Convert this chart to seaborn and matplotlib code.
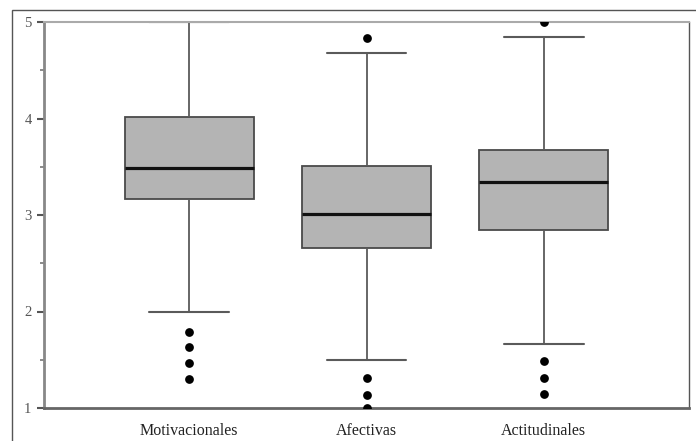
import matplotlib
matplotlib.use("Agg")
import matplotlib.pyplot as plt
from matplotlib.patches import Rectangle
import seaborn as sns
import pandas as pd

# Categories
categories = ["Motivacionales", "Afectivas", "Actitudinales"]

# Five-number summaries (whisker low, Q1, median, Q3, whisker high)
whisker_low = [2.00, 1.50, 1.66]
q1_vals = [3.17, 2.66, 2.84]
median_vals = [3.49, 3.01, 3.34]
q3_vals = [4.02, 3.51, 3.67]
whisker_high = [5.00, 4.68, 4.84]

# Outliers per category
outliers_motivacionales = [1.79, 1.63, 1.47, 1.30]
outliers_afectivas = [4.83, 1.31, 1.13, 1.00]
outliers_actitudinales = [5.00, 1.49, 1.31, 1.14]

# Build long tables
rows = []
for i, c in enumerate(categories):
    for v in (whisker_low[i], q1_vals[i], median_vals[i], q3_vals[i], whisker_high[i]):
        rows.append({"cat": c, "val": v})
box_df = pd.DataFrame(rows)

out_rows = []
for c, vals in zip(categories, [outliers_motivacionales, outliers_afectivas, outliers_actitudinales]):
    for v in vals:
        out_rows.append({"cat": c, "val": v})
out_df = pd.DataFrame(out_rows)

sns.set_style("white")
plt.rcParams["font.family"] = ["Liberation Serif", "DejaVu Serif"]

fig = plt.figure(figsize=(6.96, 4.41), dpi=100)
ax = fig.add_axes([44 / 696, 1 - 408 / 441, (689 - 44) / 696, (408 - 22) / 441])

sns.boxplot(
    data=box_df, x="cat", y="val", order=categories, ax=ax,
    whis=(0, 100), width=0.73, color="#b4b4b4", saturation=1,
    linecolor="#4a4a4a", linewidth=1.3, showfliers=False,
    capwidths=0.45,
    whiskerprops=dict(color="#5a5a5a", linewidth=1.3),
    capprops=dict(color="#5a5a5a", linewidth=1.5),
    medianprops=dict(color="#111111", linewidth=2.3),
)
sns.stripplot(
    data=out_df, x="cat", y="val", order=categories, ax=ax,
    jitter=False, color="black", size=6.3, linewidth=0,
)
for coll in ax.collections:
    coll.set_clip_on(True)

ax.set_xlim(-0.82, 2.82)
ax.set_ylim(1, 5)
ax.set_xlabel("")
ax.set_ylabel("")
ax.set_yticks([1, 2, 3, 4, 5])
ax.set_yticks([1.5, 2.5, 3.5, 4.5], minor=True)
ax.tick_params(axis="y", which="major", length=5, width=1.5, color="#555555",
               labelsize=10.5, labelcolor="#555555", direction="out", pad=4, left=True)
ax.tick_params(axis="y", which="minor", length=3, width=1.2, color="#777777",
               direction="out", left=True)
ax.tick_params(axis="x", length=0, labelsize=11.5, pad=11, labelcolor="#222222")

ax.spines["left"].set_color("#888888")
ax.spines["left"].set_linewidth(2.0)
ax.spines["bottom"].set_color("#666666")
ax.spines["bottom"].set_linewidth(2.0)
ax.spines["top"].set_color("#aaaaaa")
ax.spines["top"].set_linewidth(1.5)
ax.spines["right"].set_color("#555555")
ax.spines["right"].set_linewidth(1.0)

# Outer frame of the figure
fig.patches.append(Rectangle((12 / 696, -0.1), 1.2, 1 - 10 / 441 + 0.1,
                             transform=fig.transFigure, fill=False,
                             edgecolor="#555555", linewidth=1.0))

fig.savefig("out.png", dpi=100)
